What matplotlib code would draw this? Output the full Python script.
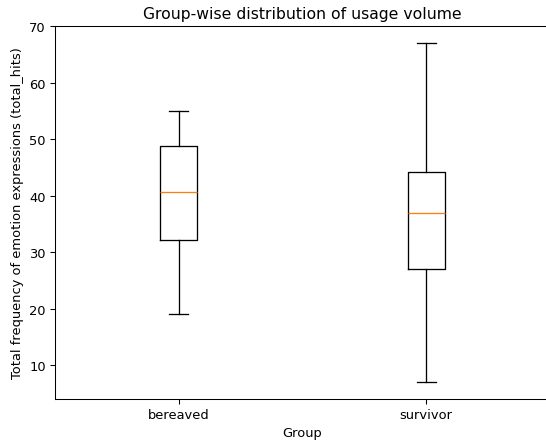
import matplotlib
matplotlib.use("Agg")
import matplotlib.pyplot as plt

# group labels and box statistics
groups = ["bereaved", "survivor"]
whisker_low = [19.1, 7.0]
q1 = [32.1, 27.0]
median = [40.6, 37.0]
q3 = [48.7, 44.1]
whisker_high = [55.0, 67.0]

stats = []
for i, g in enumerate(groups):
    stats.append({"label": g, "whislo": whisker_low[i], "q1": q1[i],
                  "med": median[i], "q3": q3[i], "whishi": whisker_high[i],
                  "fliers": []})

# rendered at 94 dpi so text and lines come out at the reference's scale
fig = plt.figure(figsize=(546 / 94, 443 / 94), dpi=94)
# the reference is cropped on the right, the axes run just past the edge
ax = fig.add_axes([0.1007, 0.097, 0.9066, 0.842])
ax.bxp(stats, showfliers=False)

ax.set_title("Group-wise distribution of usage volume")
ax.set_xlabel("Group")
ax.set_ylabel("Total frequency of emotion expressions (total_hits)")
fig.savefig("out.png", dpi=94)
